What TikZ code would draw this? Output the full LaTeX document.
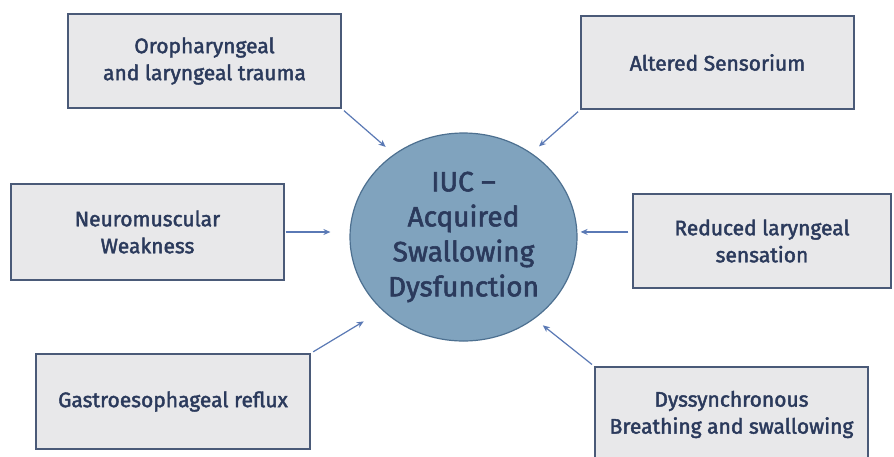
\documentclass[tikz,border=0pt]{standalone}
\usepackage{fontspec}
\setmainfont{Fira Sans}[FakeBold=2]
\usetikzlibrary{shapes.geometric,arrows.meta}
\definecolor{boxfill}{HTML}{E8E8EA}
\definecolor{boxline}{HTML}{4A5A78}
\definecolor{txt}{HTML}{2B3A5C}
\definecolor{circfill}{HTML}{80A3BE}
\definecolor{circline}{HTML}{4D7090}
\definecolor{arrcol}{HTML}{5A79B5}
\tikzset{
  causebox/.style={draw=boxline, line width=1.3pt, fill=boxfill, inner sep=0pt,
    text=txt, align=center, font=\fontsize{21}{27}\selectfont},
  centre/.style={ellipse, draw=circline, line width=1.2pt, fill=circfill, inner sep=0pt,
    minimum width=227pt, minimum height=208pt, text=txt, align=center,
    font=\fontsize{28}{35}\selectfont},
  arr/.style={draw=arrcol, line width=1.2pt, -{Stealth[length=7pt,width=6pt]}}
}
\begin{document}
\begin{tikzpicture}[x=1pt,y=-1pt]
\clip (0,0) rectangle (894,456);
\fill[white] (0,0) rectangle (894,456);
\node[centre] (c) at (463.5,237) {IUC –\\Acquired\\Swallowing\\Dysfunction};
\node[causebox, minimum width=273pt, minimum height=94pt] (b1) at (204.5,61) {Oropharyngeal\\and laryngeal trauma};
\node[causebox, minimum width=273pt, minimum height=93pt] (b2) at (717.5,62.5) {Altered Sensorium};
\node[causebox, minimum width=273pt, minimum height=96pt] (b3) at (147.5,232) {Neuromuscular\\Weakness};
\node[causebox, minimum width=258pt, minimum height=94pt] (b4) at (762,241) {Reduced laryngeal\\sensation};
\node[causebox, minimum width=273pt, minimum height=95pt] (b5) at (731.5,414.5) {Dyssynchronous\\Breathing and swallowing};
\node[causebox, minimum width=274pt, minimum height=95pt] (b6) at (173,401.5) {Gastroesophageal reflux};
\draw[arr, shorten <=3pt, shorten >=11pt] (b1.south east) -- (c.130);
\draw[arr, shorten <=3pt, shorten >=10pt] (b2.south west) -- (c.51);
\draw[arr, shorten <=1pt, shorten >=19pt] (b3.east) -- (b3.east -| c.west);
\draw[arr, shorten <=4pt, shorten >=3pt] (b4.176.5) -- (b4.176.5 -| c.east);
\draw[arr, shorten <=3pt, shorten >=10.5pt] (b5.north west) -- (c.-49);
\draw[arr, shorten <=3pt, shorten >=21.5pt] (b6.north east) -- (c.222);
\end{tikzpicture}
\end{document}
